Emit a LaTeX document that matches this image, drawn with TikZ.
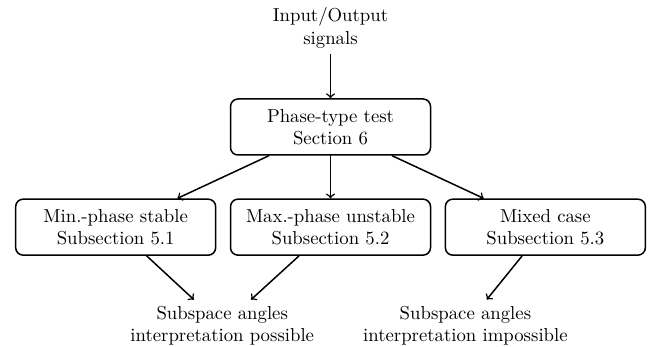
\documentclass[tikz,border=0pt]{standalone}
\usepackage{tikz}
\usetikzlibrary{positioning}

\begin{document}
\begin{tikzpicture}[line cap=round,line join=round,x=1.0cm,y=1.0cm,
  casebox/.style={draw,thick,rounded corners=4pt,minimum width=3.75cm,minimum height=1.05cm,align=center},
  plain/.style={align=center},
  flow/.style={->,thick}]
\useasboundingbox (-6.197,-4.125) rectangle (5.99,2.381);
\node[casebox] (phase) at (0,0) {Phase-type test\\Section 6};
\node[plain,above=0.82cm of phase] (io) {Input/Output\\signals};
\node[casebox,below=0.8cm of phase] (maxph) {Max.-phase unstable\\Subsection 5.2};
\node[casebox,left=0.25cm of maxph] (minph) {Min.-phase stable\\Subsection 5.1};
\node[casebox,right=0.25cm of maxph] (mixed) {Mixed case\\Subsection 5.3};
\node[plain] (possible) at (-2.03,-3.73) {Subspace angles\\interpretation possible};
\node[plain] (impossible) at (2.53,-3.73) {Subspace angles\\interpretation impossible};
\draw[flow] (io) -- (phase);
\draw[flow] (phase) -- (minph);
\draw[flow] (phase) -- (maxph);
\draw[flow] (phase) -- (mixed);
\draw[flow] (minph) -- (possible);
\draw[flow] (maxph) -- (possible);
\draw[flow] (mixed) -- (impossible);
\end{tikzpicture}
\end{document}
